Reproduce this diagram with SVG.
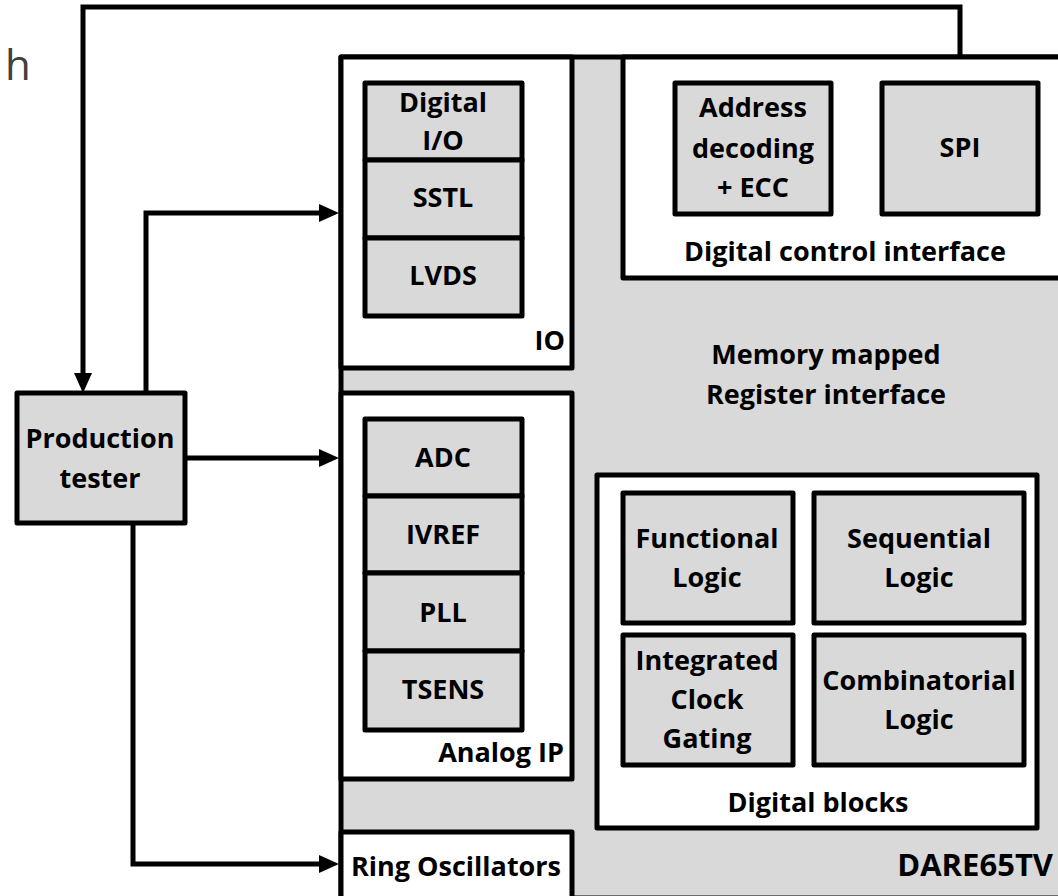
<svg xmlns="http://www.w3.org/2000/svg" width="1058" height="896" viewBox="0 0 1058 896">
<defs>
<marker id="arr" markerUnits="userSpaceOnUse" viewBox="0 0 20 18" markerWidth="20" markerHeight="18" refX="10" refY="9" orient="auto"><path d="M0,0 L20,9 L0,18 z" fill="#000"/></marker>
<style>
.box{stroke:#000;stroke-width:5;stroke-linejoin:round}
.g{fill:#d9d9d9}
.w{fill:#fff}
.t{font-family:"Open Sans","Liberation Sans",sans-serif;font-weight:bold;font-size:27px;fill:#000;text-anchor:middle}
.r{text-anchor:end}
.conn{fill:none;stroke:#000;stroke-width:5;stroke-linejoin:miter}
</style>
</defs>
<rect width="1058" height="896" fill="#fff"/>
<text x="5" y="80" style="font-family:'Open Sans','Liberation Sans',sans-serif;font-size:42px;fill:#404040">h</text>

<g id="chip">
<rect class="box g" x="341" y="57" width="760" height="841"/>
<text class="t r" x="1053" y="876" style="font-size:31px">DARE65TV</text>
<text class="t" x="826" y="364">Memory mapped</text>
<text class="t" x="826" y="404">Register interface</text>
</g>

<g id="io">
<rect class="box w" x="341" y="57" width="231" height="311"/>
<rect class="box g" x="365" y="83" width="157" height="77"/>
<rect class="box g" x="365" y="160" width="157" height="78"/>
<rect class="box g" x="365" y="238" width="157" height="78"/>
<text class="t" x="443" y="112">Digital</text>
<text class="t" x="443" y="150">I/O</text>
<text class="t" x="443" y="207">SSTL</text>
<text class="t" x="443" y="285">LVDS</text>
<text class="t r" x="565" y="350">IO</text>
</g>

<g id="analog">
<rect class="box w" x="341" y="393" width="231" height="386"/>
<rect class="box g" x="365" y="419" width="157" height="77"/>
<rect class="box g" x="365" y="496" width="157" height="77"/>
<rect class="box g" x="365" y="573" width="157" height="78"/>
<rect class="box g" x="365" y="651" width="157" height="79"/>
<text class="t" x="443" y="467">ADC</text>
<text class="t" x="443" y="544">IVREF</text>
<text class="t" x="443" y="622">PLL</text>
<text class="t" x="443" y="699">TSENS</text>
<text class="t r" x="564" y="762">Analog IP</text>
</g>

<g id="control">
<rect class="box w" x="623" y="57" width="460" height="221"/>
<rect class="box g" x="675" y="83" width="156" height="131"/>
<rect class="box g" x="882" y="83" width="156" height="131"/>
<text class="t" x="753" y="117">Address</text>
<text class="t" x="753" y="158">decoding</text>
<text class="t" x="753" y="197">+ ECC</text>
<text class="t" x="960" y="157">SPI</text>
<text class="t" x="845" y="261">Digital control interface</text>
</g>

<g id="digital">
<rect class="box w" x="597" y="475" width="440" height="353"/>
<rect class="box g" x="623" y="493" width="170" height="130"/>
<rect class="box g" x="814" y="493" width="210" height="130"/>
<rect class="box g" x="623" y="635" width="170" height="130"/>
<rect class="box g" x="814" y="635" width="210" height="130"/>
<text class="t" x="707" y="548">Functional</text>
<text class="t" x="707" y="587">Logic</text>
<text class="t" x="919" y="548">Sequential</text>
<text class="t" x="919" y="587">Logic</text>
<text class="t" x="707" y="670">Integrated</text>
<text class="t" x="707" y="709">Clock</text>
<text class="t" x="707" y="748">Gating</text>
<text class="t" x="919" y="690">Combinatorial</text>
<text class="t" x="919" y="729">Logic</text>
<text class="t" x="818" y="812">Digital blocks</text>
</g>

<g id="ring">
<rect class="box w" x="341" y="832" width="231" height="70"/>
<text class="t" x="456" y="876">Ring Oscillators</text>
</g>

<g id="tester">
<rect class="box g" x="17" y="393" width="168" height="130"/>
<text class="t" x="100" y="448">Production</text>
<text class="t" x="100" y="488">tester</text>
</g>

<g id="connectors">
<path class="conn" d="M960,57 V7 H83 V383" marker-end="url(#arr)"/>
<path class="conn" d="M146,393 V213 H329" marker-end="url(#arr)"/>
<path class="conn" d="M185,458 H329" marker-end="url(#arr)"/>
<path class="conn" d="M133,523 V864 H329" marker-end="url(#arr)"/>
</g>
</svg>
